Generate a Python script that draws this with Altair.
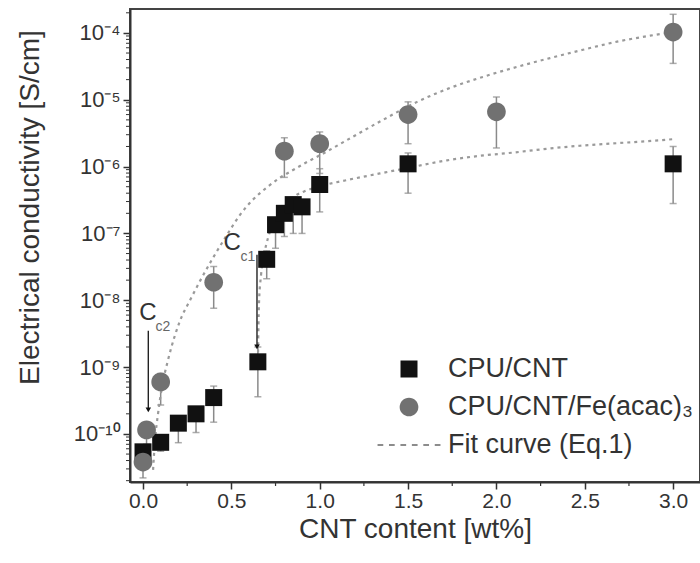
import altair as alt
import pandas as pd

# ---------------- data ----------------
series_names = ["CPU/CNT", "CPU/CNT/Fe(acac)₃", "Fit curve (Eq.1)"]

cpu_x = [0.0, 0.1, 0.2, 0.3, 0.4, 0.65, 0.7, 0.75, 0.8, 0.85, 0.9, 1.0, 1.5, 3.0]
cpu_y = [5.4e-11, 7.5e-11, 1.45e-10, 2.0e-10, 3.5e-10, 1.2e-9, 4.1e-8, 1.35e-7,
         2.0e-7, 2.7e-7, 2.5e-7, 5.4e-7, 1.1e-6, 1.1e-6]
cpu_lo = [3.5e-11, 5.5e-11, 7.4e-11, 1.05e-10, 1.5e-10, 3.6e-10, 2.1e-8, 6.0e-8,
          9.0e-8, 1.0e-7, 1.0e-7, 2.1e-7, 4.0e-7, 2.8e-7]
cpu_hi = [6.5e-11, 9.0e-11, 1.8e-10, 2.4e-10, 5.2e-10, 2.0e-9, 5.5e-8, 1.6e-7,
          2.6e-7, 3.5e-7, 3.0e-7, 9.3e-7, 1.6e-6, 2.0e-6]

fe_x = [0.0, 0.02, 0.1, 0.4, 0.8, 1.0, 1.5, 2.0, 3.0]
fe_y = [3.8e-11, 1.15e-10, 6.0e-10, 1.86e-8, 1.7e-6, 2.2e-6, 6.0e-6, 6.6e-6, 1.03e-4]
fe_lo = [2.2e-11, 7.0e-11, 2.7e-10, 7.6e-9, 6.9e-7, 7.9e-7, 2.2e-6, 1.9e-6, 3.5e-5]
fe_hi = [5.0e-11, 1.4e-10, 8.0e-10, 3.2e-8, 2.7e-6, 3.3e-6, 9.3e-6, 1.1e-5, 1.9e-4]

fit_fe_x = [0.057, 0.068, 0.085, 0.107, 0.141, 0.181, 0.209, 0.266, 0.323, 0.396,
            0.475, 0.549, 0.622, 0.702, 0.775, 0.849, 0.928, 1.002, 1.155, 1.358,
            1.551, 1.737, 1.924, 2.116, 2.303, 2.490, 2.683, 2.870, 3.0]
fit_fe_y = [2.9e-11, 8.1e-11, 2.0e-10, 5.0e-10, 1.26e-9, 3.0e-9, 4.9e-9, 1.0e-8,
            1.95e-8, 4.3e-8, 9.5e-8, 1.9e-7, 3.2e-7, 4.9e-7, 6.8e-7, 8.9e-7,
            1.17e-6, 1.48e-6, 2.5e-6, 5.0e-6, 9.3e-6, 1.5e-5, 2.2e-5, 3.1e-5,
            4.2e-5, 5.6e-5, 7.4e-5, 9.1e-5, 1.03e-4]

fit_cpu_x = [0.651, 0.656, 0.668, 0.685, 0.707, 0.741, 0.787, 0.843, 0.917, 1.002,
             1.143, 1.341, 1.528, 1.720, 1.907, 2.094, 2.286, 2.473, 2.660, 2.852, 3.0]
fit_cpu_y = [1.66e-9, 8.5e-9, 2.4e-8, 4.8e-8, 8.5e-8, 1.48e-7, 2.4e-7, 3.4e-7,
             4.3e-7, 5.1e-7, 6.2e-7, 7.9e-7, 9.9e-7, 1.24e-6, 1.45e-6, 1.62e-6,
             1.85e-6, 2.05e-6, 2.22e-6, 2.4e-6, 2.57e-6]

# annotations (C_c2 and C_c1)
ann_text = ["C", "c2", "C", "c1"]
ann_x = [0.028, 0.113, 0.504, 0.594]
ann_y = [6.4e-9, 4.0e-9, 7.2e-8, 4.5e-8]
ann_big = [True, False, True, False]

arrow_x = [0.03, 0.645]
arrow_top = [3.5e-9, 4.8e-8]
arrow_tip = [2.3e-10, 2.0e-9]

x_ticks = [0.0, 0.5, 1.0, 1.5, 2.0, 2.5, 3.0]
x_minor = [0.25, 0.75, 1.25, 1.75, 2.25, 2.75]
y_ticks = [1e-10, 1e-9, 1e-8, 1e-7, 1e-6, 1e-5, 1e-4]
y_minor = [m * 10.0 ** e for e in range(-11, -3) for m in range(2, 10)
           if 1.95e-11 < m * 10.0 ** e < 2.2e-4]

# ---------------- tables ----------------
pts = pd.DataFrame({
    "x": cpu_x + fe_x,
    "y": cpu_y + fe_y,
    "lo": cpu_lo + fe_lo,
    "hi": cpu_hi + fe_hi,
    "series": [series_names[0]] * len(cpu_x) + [series_names[1]] * len(fe_x),
})
fit = pd.DataFrame({
    "x": fit_cpu_x + fit_fe_x,
    "y": fit_cpu_y + fit_fe_y,
    "curve": ["cpu"] * len(fit_cpu_x) + ["fe"] * len(fit_fe_x),
})
ann = pd.DataFrame({"x": ann_x, "y": ann_y, "t": ann_text, "big": ann_big})
arr = pd.DataFrame({"x": arrow_x, "y": arrow_top, "y2": arrow_tip})
ymin = pd.DataFrame({"y": y_minor})
xmin = pd.DataFrame({"x": x_minor})

# ---------------- styling ----------------
FONT = "Liberation Sans"
W, H = 570, 473
xs = alt.Scale(domain=[-0.0736, 3.152], nice=False, zero=False)
ys = alt.Scale(type="log", domain=[1.91e-11, 2.28e-4], nice=False)

xaxis = alt.Axis(values=x_ticks, format=".1f", title="CNT content [wt%]",
                 grid=False, tickSize=7, tickWidth=1.5, tickColor="#333",
                 domainColor="#333", domainWidth=2, labelFontSize=21,
                 labelColor="#333", labelFont=FONT, labelPadding=1,
                 titleFont=FONT, titleFontSize=28, titleFontWeight="normal",
                 titleColor="#333", titleY=55, titleBaseline="alphabetic")
ylab = ("'10' + ['⁻¹⁰','⁻⁹','⁻⁸','⁻⁷','⁻⁶','⁻⁵','⁻⁴']"
        "[round(log(datum.value)/LN10)+10]")
yaxis = alt.Axis(values=y_ticks, labelExpr=ylab,
                 title="Electrical conductivity [S/cm]",
                 grid=False, tickSize=7, tickWidth=1.5, tickColor="#333",
                 domainColor="#333", domainWidth=2, labelFontSize=22,
                 labelColor="#333", labelFont=FONT, labelPadding=3,
                 titleFont=FONT, titleFontSize=28, titleFontWeight="normal",
                 titleColor="#333", titleX=-100, titleY=198,
                 titleBaseline="middle")


def X(f="x"):
    return alt.X(f, type="quantitative", scale=xs, axis=xaxis)


def Y(f="y"):
    return alt.Y(f, type="quantitative", scale=ys, axis=yaxis)


# custom symbol paths
SQUARE = "M-0.5,-0.5H0.5V0.5H-0.5Z"
CIRCLE = "M-0.55,0A0.55,0.55,0,1,0,0.55,0A0.55,0.55,0,1,0,-0.55,0Z"
period, dash, half = 0.673, 0.336, 1.85
DASH = "".join(
    f"M{-half + k * period:.3f},-0.06H{-half + k * period + dash:.3f}V0.06H{-half + k * period:.3f}Z"
    for k in range(6))
SYM = 1156

legend = alt.Legend(orient="none", legendX=262, legendY=343, title=None,
                    labelFont=FONT, labelFontSize=27, labelColor="#333",
                    labelLimit=0, symbolSize=SYM, symbolStrokeWidth=0,
                    rowPadding=8, labelOffset=22)

color = alt.Color("series:N", scale=alt.Scale(domain=series_names,
                  range=["#111111", "#717171", "#8c8c8c"]), legend=legend)
shape = alt.Shape("series:N", scale=alt.Scale(domain=series_names,
                  range=[SQUARE, CIRCLE, DASH]), legend=legend)

err_rule = alt.Chart(pts).mark_rule(color="#8a8a8a", strokeWidth=1.5).encode(
    x=X(), y=Y("lo"), y2="hi")
err_lo = alt.Chart(pts).mark_tick(color="#8a8a8a", orient="horizontal",
                                  size=7, thickness=1.5).encode(x=X(), y=Y("lo"))
err_hi = alt.Chart(pts).mark_tick(color="#8a8a8a", orient="horizontal",
                                  size=7, thickness=1.5).encode(x=X(), y=Y("hi"))

fit_line = alt.Chart(fit).mark_line(color="#9a9a9a", strokeWidth=2.2,
                                    strokeDash=[3, 4], interpolate="monotone").encode(
    x=X(), y=Y(), detail="curve:N")

points = alt.Chart(pts).mark_point(filled=True, opacity=1, size=SYM).encode(
    x=X(), y=Y(), color=color, shape=shape)

arrow_line = alt.Chart(arr).mark_rule(color="#222", strokeWidth=1.4).encode(
    x=X(), y=Y(), y2="y2")
arrow_head = alt.Chart(arr).mark_point(shape="triangle-down", filled=True,
                                       color="#111", size=30, opacity=1).encode(
    x=X(), y=Y("y2"))

ann_big_t = alt.Chart(ann).transform_filter("datum.big").mark_text(
    font=FONT, fontSize=24, color="#333").encode(x=X(), y=Y(), text="t:N")
ann_small_t = alt.Chart(ann).transform_filter("!datum.big").mark_text(
    font=FONT, fontSize=14, color="#666").encode(x=X(), y=Y(), text="t:N")

yminor = alt.Chart(ymin).mark_rule(color="#333", strokeWidth=1).encode(
    y=Y(), x=alt.value(0), x2=alt.value(-4))
xminor = alt.Chart(xmin).mark_rule(color="#333", strokeWidth=1.2).encode(
    x=X(), y=alt.value(H), y2=alt.value(H + 4))

chart = alt.layer(
    err_rule, err_lo, err_hi, fit_line, points, arrow_line, arrow_head,
    ann_big_t, ann_small_t, yminor, xminor
).properties(
    width=W, height=H,
    autosize=alt.AutoSizeParams(type="none"),
    padding={"left": 130, "top": 9, "right": 0, "bottom": 81},
    background="white",
).configure_view(
    stroke="#444", strokeWidth=2
)

chart.save("out.html", embed_options={"renderer": "svg", "actions": False})
